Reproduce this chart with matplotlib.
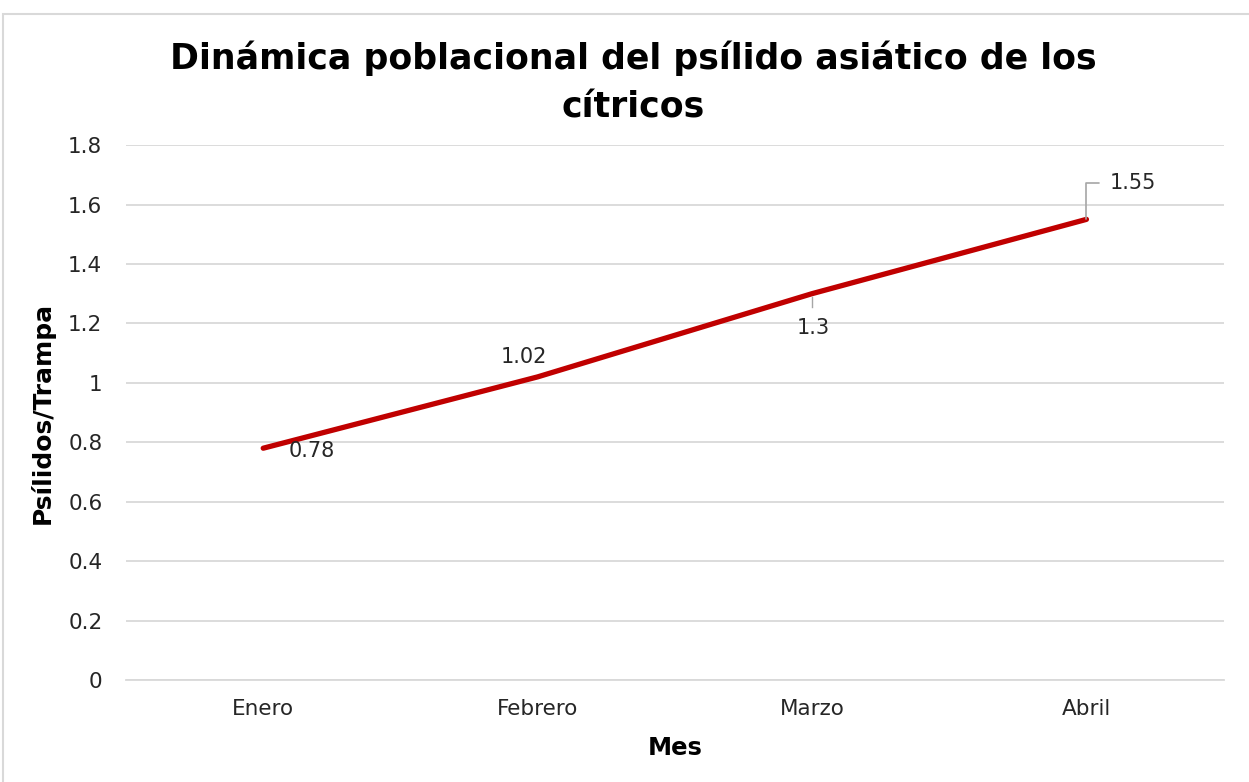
import matplotlib.pyplot as plt
from matplotlib.patches import Rectangle

meses = ['Enero', 'Febrero', 'Marzo', 'Abril']
psilidos = [0.78, 1.02, 1.3, 1.55]
etiquetas = ['0.78', '1.02', '1.3', '1.55']

plt.rcParams['font.family'] = ['DejaVu Sans']


def plot_chart():
    fig = plt.figure(figsize=(12.49, 7.82), dpi=100)
    ax = fig.add_axes([0.1009, 0.1304, 0.8788, 0.6841])

    # light frame like the Excel chart area
    fig.patches.append(Rectangle((3 / 1249, -0.05), 1.1, 1 - 14 / 782 + 0.05,
                                 transform=fig.transFigure, fill=False,
                                 edgecolor='#d9d9d9', linewidth=1.5))

    x = list(range(len(meses)))
    ax.plot(x, psilidos, color='#c00000', linewidth=3.8, solid_capstyle='round')

    ax.set_xlim(-0.5, len(meses) - 0.5)
    ax.set_ylim(0, 1.8)
    ax.set_yticks([i * 0.2 for i in range(10)])
    ax.set_yticklabels(['0', '0.2', '0.4', '0.6', '0.8', '1', '1.2', '1.4', '1.6', '1.8'])
    ax.set_xticks(x)
    ax.set_xticklabels(meses)
    ax.tick_params(axis='both', length=0, labelsize=15.5, colors='#262626')
    ax.tick_params(axis='x', pad=14)
    ax.tick_params(axis='y', pad=17)
    ax.grid(axis='y', color='#d9d9d9', linewidth=1.3)
    ax.set_axisbelow(True)
    for s in ['top', 'right', 'left']:
        ax.spines[s].set_visible(False)
    ax.spines['bottom'].set_color('#d9d9d9')
    ax.spines['bottom'].set_linewidth(1.3)

    ax.set_xlabel('Mes', fontsize=17.5, fontweight='bold', labelpad=12)
    ax.set_ylabel('Psílidos/Trampa', fontsize=18, fontweight='bold', labelpad=10)
    fig.text(0.507, 0.948, 'Dinámica poblacional del psílido asiático de los\ncítricos',
             ha='center', va='top', fontsize=25, fontweight='bold',
             linespacing=1.52)

    # data labels
    ax.annotate(etiquetas[0], (x[0], psilidos[0]), xytext=(18, -2),
                textcoords='offset points', ha='left', va='center', fontsize=15,
                color='#262626')
    ax.annotate(etiquetas[1], (x[1], psilidos[1]), xytext=(-10, 14),
                textcoords='offset points', ha='center', va='center', fontsize=15,
                color='#262626')
    ax.annotate(etiquetas[2], (x[2], psilidos[2]), xytext=(1, -25),
                textcoords='offset points', ha='center', va='center', fontsize=15,
                color='#262626')
    ax.plot([x[2], x[2]], [psilidos[2] - 0.01, psilidos[2] - 0.045],
            color='#a6a6a6', linewidth=1)
    ax.annotate(etiquetas[3], (x[3], psilidos[3]), xytext=(17, 26),
                textcoords='offset points', ha='left', va='center', fontsize=15,
                color='#262626',
                arrowprops=dict(arrowstyle='-', color='#a6a6a6', linewidth=1.2,
                                connectionstyle='angle,angleA=0,angleB=90,rad=0',
                                shrinkA=6, shrinkB=0))
    return fig


def main():
    fig = plot_chart()
    fig.savefig('out.png', dpi=100)


if __name__ == '__main__':
    main()
